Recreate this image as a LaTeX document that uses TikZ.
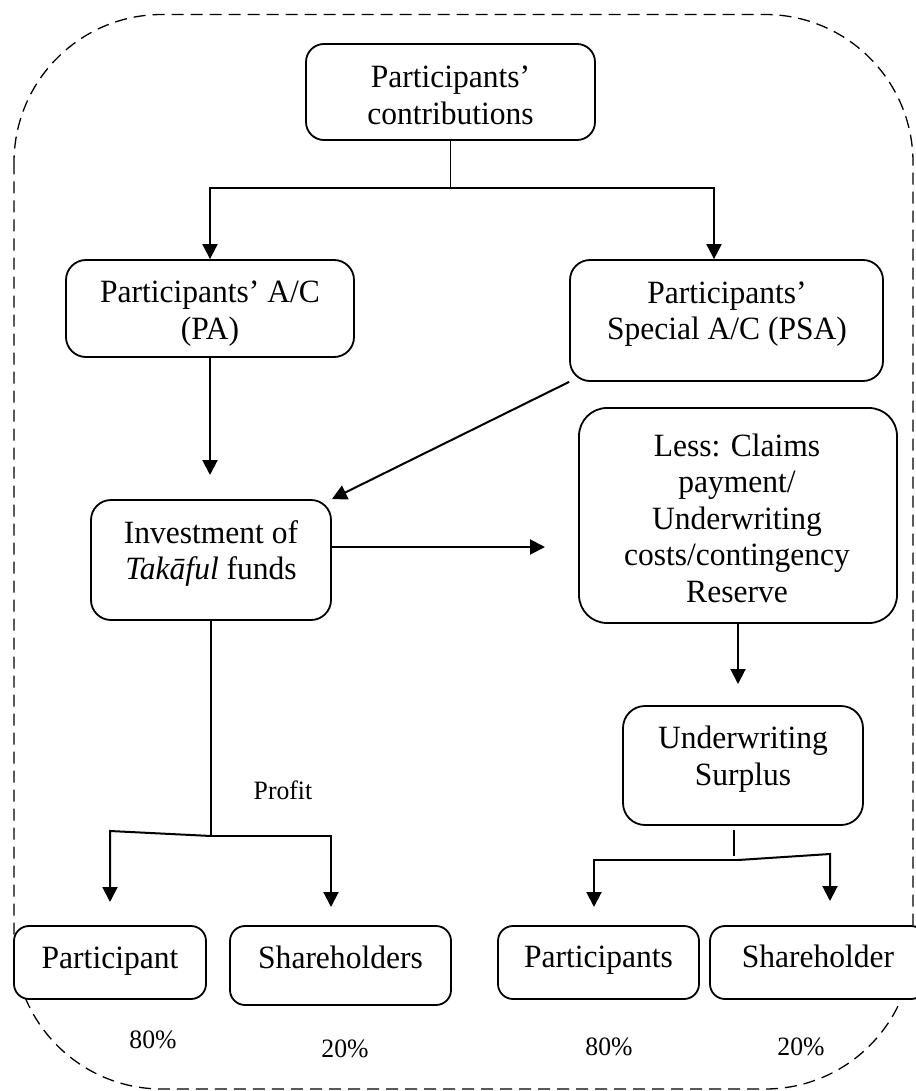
\documentclass[tikz,border=0pt]{standalone}
\usepackage{fontspec}
\setmainfont{Liberation Serif}[FakeStretch=0.97]
\usetikzlibrary{arrows.meta}
\tikzset{
  box/.style={draw, line width=1.8pt, fill=white, inner sep=0pt, rounded corners=#1},
  box/.default=18pt,
  txt/.style={align=center, inner sep=0pt, font=\fontsize{32.5}{36.5}\selectfont},
  lbl/.style={inner sep=0pt, anchor=base, font=\fontsize{26.5}{30}\selectfont},
  wire/.style={line width=1.5pt},
  arr/.style={line width=2pt, -{Triangle[width=15pt,length=15pt]}},
  frame/.style={line width=1.3pt, dash pattern=on 12pt off 7pt, rounded corners=148pt},
}
\begin{document}
\begin{tikzpicture}[x=1pt,y=-1pt]
\useasboundingbox (0,0) rectangle (915,1091);

% dashed outline around the whole scheme
\draw[frame] (14,14.5) rectangle (913,1089);

% boxes
\node[box, minimum width=289pt, minimum height=96pt] (tbBox) at (450.5,92) {};
\node[box=20pt, minimum width=288pt, minimum height=97pt] (paBox) at (210,308.5) {};
\node[box=20pt, minimum width=313pt, minimum height=121pt] (psaBox) at (726.5,320.5) {};
\node[box=20pt, minimum width=240pt, minimum height=120pt] (invBox) at (211,560) {};
\node[box=28pt, minimum width=318pt, minimum height=215pt] (lessBox) at (738,515.5) {};
\node[box=22pt, minimum width=240pt, minimum height=119pt] (usBox) at (743,765.5) {};
\node[box=15pt, minimum width=192pt, minimum height=73pt] (p1Box) at (110,962.5) {};
\node[box=15pt, minimum width=221pt, minimum height=79pt] (s1Box) at (340.5,965.5) {};
\node[box=15pt, minimum width=201pt, minimum height=73pt] (p2Box) at (598.5,962.5) {};
\node[box=15pt, minimum width=216pt, minimum height=73pt] (s2Box) at (818,962.5) {};

% box texts
\node[txt] (tbT) at (450.5,95.4) {Participants’\\contributions};
\node[txt] (paT) at (210,313.9) {Participants’ A/C\\(PA)};
\node[txt] (psaT) at (727,314) {Participants’\\Special A/C (PSA)};
\node[txt] (invT) at (211,553.3) {Investment of\\\textit{Takāful} funds};
\node[txt] (lessT) at (737,517.9) {Less: Claims\\payment/\\Underwriting\\costs/contingency\\Reserve};
\node[txt] (usT) at (743,759.4) {Underwriting\\Surplus};
\node[txt, anchor=base] (p1T) at (110,968) {Participant};
\node[txt, anchor=base] (s1T) at (340.5,968) {Shareholders};
\node[txt, anchor=base] (p2T) at (598.5,967) {Participants};
\node[txt, anchor=base] (s2T) at (818,967) {Shareholder};

% free labels
\node[lbl] (profit) at (283,799) {Profit};
\node[lbl] (pcA) at (153,1048) {80\%};
\node[lbl] (pcB) at (345,1057) {20\%};
\node[lbl] (pcC) at (609,1055) {80\%};
\node[lbl] (pcD) at (801,1055) {20\%};

% junction points and arrow ends
\coordinate (s1) at (450.5,188);
\coordinate (s1l) at (210,188);
\coordinate (s1r) at (714,188);
\coordinate (tipA) at (210,475);
\coordinate (invOut) at (331,547);
\coordinate (lessIn) at (545,547);
\coordinate (tipU) at (738,684);
\coordinate (uTop) at (734,830);
\coordinate (uJoin) at (734,856);
\coordinate (uM) at (738,860);
\coordinate (uL) at (594,860);
\coordinate (uR) at (830,854);
\coordinate (tipP2) at (594,907);
\coordinate (tipS2) at (830,901);
\coordinate (iM) at (211,836);
\coordinate (iL) at (110,831);
\coordinate (iR) at (331,836);
\coordinate (tipP1) at (110,902);
\coordinate (tipS1) at (331,907);

% contributions split into the two accounts
\draw[wire] (tbBox.south) -- (s1);
\draw[arr] (s1) -- (s1l) -- (paBox.north);
\draw[arr] (s1) -- (s1r) -- (s1r |- psaBox.north);

% accounts feed the investment
\draw[arr] (paBox.south) -- (tipA);
\draw[arr] (psaBox.south west) -- (invBox.north east);
\draw[arr] (invBox.east |- invOut) -- (lessIn);

% underwriting chain
\draw[arr] (lessBox.south) -- (tipU);
\draw[wire] (uTop) -- (uJoin);
\draw[arr] (uM) -- (uL) -- (tipP2);
\draw[arr] (uM) -- (uR) -- (tipS2);

% profit sharing
\draw[wire] (invBox.south) -- (iM);
\draw[arr] (iM) -- (iL) -- (tipP1);
\draw[arr] (iM) -- (iR) -- (tipS1);
\end{tikzpicture}
\end{document}
